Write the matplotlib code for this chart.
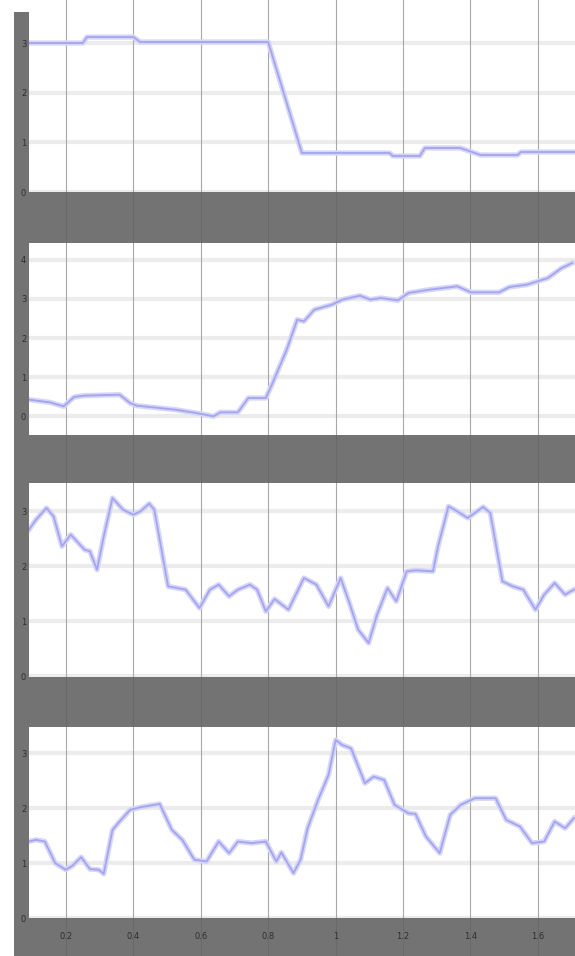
import matplotlib
matplotlib.use("Agg")
import matplotlib.pyplot as plt
from matplotlib.patches import Rectangle
from matplotlib import transforms

# ---------------- data ----------------
x_ticks = [0.2, 0.4, 0.6, 0.8, 1.0, 1.2, 1.4, 1.6]
x_tick_labels = ["0.2", "0.4", "0.6", "0.8", "1", "1.2", "1.4", "1.6"]
x_range = (0.0902, 1.7104)

p1_x = [0.09, 0.25, 0.262, 0.40, 0.42, 0.60, 0.80, 0.90, 1.16, 1.17, 1.25,
        1.265, 1.37, 1.43, 1.54, 1.55, 1.71]
p1_y = [3.0, 3.0, 3.12, 3.12, 3.02, 3.02, 3.02, 0.785, 0.785, 0.725, 0.725,
        0.886, 0.886, 0.745, 0.745, 0.805, 0.805]

p2_x = [0.090, 0.152, 0.193, 0.224, 0.255, 0.359, 0.390, 0.410, 0.524, 0.586,
        0.638, 0.658, 0.710, 0.741, 0.793, 0.813, 0.855, 0.886, 0.906, 0.937,
        0.989, 1.020, 1.072, 1.103, 1.134, 1.185, 1.216, 1.278, 1.361, 1.402,
        1.485, 1.516, 1.568, 1.630, 1.671, 1.702]
p2_y = [0.426, 0.357, 0.255, 0.494, 0.528, 0.553, 0.340, 0.272, 0.170, 0.085,
        0.0, 0.102, 0.102, 0.468, 0.468, 0.851, 1.702, 2.468, 2.426, 2.723,
        2.851, 2.979, 3.081, 2.979, 3.021, 2.962, 3.149, 3.234, 3.319, 3.166,
        3.166, 3.302, 3.362, 3.532, 3.787, 3.915]

p3_x = [0.090, 0.111, 0.142, 0.163, 0.188, 0.214, 0.255, 0.271, 0.292, 0.312,
        0.338, 0.369, 0.400, 0.421, 0.447, 0.462, 0.503, 0.555, 0.596, 0.627,
        0.653, 0.684, 0.710, 0.746, 0.767, 0.793, 0.819, 0.860, 0.906, 0.943,
        0.979, 1.015, 1.041, 1.067, 1.098, 1.123, 1.154, 1.180, 1.211, 1.237,
        1.289, 1.304, 1.335, 1.356, 1.392, 1.438, 1.459, 1.495, 1.526, 1.557,
        1.593, 1.619, 1.650, 1.681, 1.707]
p3_y = [2.667, 2.848, 3.061, 2.909, 2.364, 2.576, 2.303, 2.273, 1.939, 2.545,
        3.242, 3.030, 2.939, 3.000, 3.139, 3.030, 1.636, 1.576, 1.242, 1.576,
        1.667, 1.455, 1.576, 1.667, 1.576, 1.182, 1.406, 1.212, 1.788, 1.667,
        1.273, 1.788, 1.333, 0.848, 0.606, 1.121, 1.606, 1.364, 1.909, 1.927,
        1.909, 2.364, 3.091, 3.018, 2.879, 3.079, 2.970, 1.727, 1.636, 1.576,
        1.212, 1.485, 1.697, 1.485, 1.576]

p4_x = [0.090, 0.111, 0.137, 0.168, 0.199, 0.219, 0.245, 0.271, 0.297, 0.312,
        0.338, 0.359, 0.390, 0.421, 0.478, 0.514, 0.545, 0.581, 0.617, 0.653,
        0.684, 0.710, 0.751, 0.793, 0.824, 0.839, 0.875, 0.896, 0.917, 0.948,
        0.979, 1.000, 1.020, 1.046, 1.087, 1.113, 1.144, 1.175, 1.216, 1.237,
        1.268, 1.309, 1.340, 1.371, 1.413, 1.475, 1.506, 1.547, 1.583, 1.619,
        1.650, 1.681, 1.707]
p4_y = [1.394, 1.424, 1.394, 1.000, 0.879, 0.952, 1.109, 0.891, 0.879, 0.806,
        1.606, 1.758, 1.970, 2.018, 2.079, 1.606, 1.424, 1.061, 1.030, 1.394,
        1.182, 1.394, 1.364, 1.394, 1.030, 1.194, 0.818, 1.061, 1.636, 2.152,
        2.606, 3.242, 3.152, 3.091, 2.455, 2.576, 2.515, 2.061, 1.909, 1.897,
        1.485, 1.182, 1.879, 2.061, 2.182, 2.182, 1.788, 1.667, 1.364, 1.394,
        1.758, 1.636, 1.818]

y_ticks = [[0, 1, 2, 3], [0, 1, 2, 3, 4], [0, 1, 2, 3], [0, 1, 2, 3]]
y_ranges = [(0, 3.866), (-0.477, 4.426), (-0.012, 3.515), (0.0, 3.48)]
series = [(p1_x, p1_y), (p2_x, p2_y), (p3_x, p3_y), (p4_x, p4_y)]

# ---------------- style ----------------
W, H = 575, 956
GRAY = "#737373"
LINE_CORE = "#a4a4ef"
LINE_HALO = "#d6d6f8"
HGRID = "#ececec"
VGRID = "#a8a8a8"
LABEL = "#2e2e2e"

fig = plt.figure(figsize=(W / 100, H / 100), dpi=100, facecolor="white")
bg = Rectangle((14 / W, 0), 1 - 14 / W, 1 - 12 / H, transform=fig.transFigure,
               facecolor=GRAY, edgecolor="none")
bg.set_zorder(-10)
fig.add_artist(bg)

# panel pixel extents (top, bottom)
panels = [(0, 192), (243, 435), (483, 677), (727, 918)]
left_px = 29
axes = []
for (top, bot) in panels:
    ax = fig.add_axes([left_px / W, 1 - bot / H, (W - left_px) / W, (bot - top) / H])
    ax.set_zorder(5)
    axes.append(ax)

for i, ax in enumerate(axes):
    xs, ys = series[i]
    ax.set_facecolor("white")
    for s in ax.spines.values():
        s.set_visible(False)
    ax.set_xlim(*x_range)
    ax.set_ylim(*y_ranges[i])
    ax.set_xticks(x_ticks)
    ax.set_yticks(y_ticks[i])
    ax.set_yticklabels([str(v) for v in y_ticks[i]])
    for yv in y_ticks[i]:
        ax.axhline(yv, color=HGRID, lw=3.0, zorder=1)
    for xv in x_ticks:
        ax.axvline(xv, color=VGRID, lw=0.8, zorder=1)
    ax.plot(xs, ys, color=LINE_HALO, lw=3.8, solid_joinstyle="round", zorder=2)
    ax.plot(xs, ys, color=LINE_CORE, lw=1.3, solid_joinstyle="round", zorder=3)
    ax.tick_params(axis="y", length=0, pad=2, labelsize=6, labelcolor=LABEL)
    if i < 3:
        ax.tick_params(axis="x", length=0, labelbottom=False)
    else:
        ax.set_xticklabels(x_tick_labels)
        ax.tick_params(axis="x", length=0, pad=10, labelsize=6, labelcolor=LABEL)

# faint continuation of the vertical grid through the gray bands
bands = [(192, 243), (435, 483), (677, 727), (918, 956)]
trans = transforms.blended_transform_factory(axes[0].transData, fig.transFigure)
for (a, b) in bands:
    for xv in x_ticks:
        ln = plt.Line2D([xv, xv], [1 - b / H, 1 - a / H], transform=trans,
                        color="#696969", lw=0.7)
        ln.set_zorder(-5)
        fig.add_artist(ln)

fig.savefig("out.png", dpi=100, facecolor="white")
